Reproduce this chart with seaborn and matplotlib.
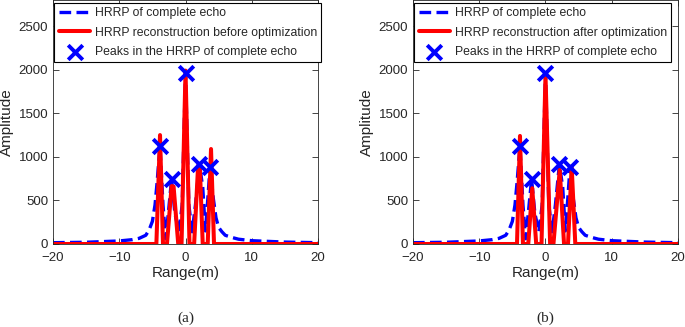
import numpy as np
import pandas as pd
import matplotlib
matplotlib.use('Agg')
import matplotlib.pyplot as plt
import seaborn as sns

# HRRP of complete echo (same in both panels)
echo_x = [-20, -15, -10, -8, -7, -6, -5.5, -5, -4.6, -4.3, -3.85, -3.4, -3.0, -2.6, -2.1, -1.6,
          -1.0, -0.5, 0, 0.5, 1.0, 1.5, 2.1, 2.6, 3.0, 3.3, 3.7, 4.2, 4.6, 5.0, 5.5, 6, 7, 8,
          10, 15, 20]
echo_y = [15, 20, 35, 50, 65, 100, 160, 260, 450, 700, 1120, 450, 60, 350, 745, 350,
          140, 450, 1960, 450, 140, 450, 915, 650, 150, 450, 880, 520, 300, 190, 140, 100, 75, 55,
          38, 22, 15]

# peaks of the complete echo
peak_x = [-3.85, -2.1, 0.0, 2.1, 3.7]
peak_y = [1120, 745, 1960, 915, 880]

# (a) reconstruction before optimization
before_x = [-20, -4.4, -3.85, -3.4, -2.8, -2.1, -1.8, -1.1, -0.6, 0, 0.6, 1.3, 1.9, 2.15,
            2.6, 3.35, 3.85, 4.3, 20]
before_y = [0, 0, 1250, 0, 0, 665, 660, 0, 0, 1990, 0, 0, 900, 900,
            0, 0, 1090, 0, 0]

# (b) reconstruction after optimization
after_x = [-20, -4.3, -3.85, -3.4, -2.6, -2.0, -1.4, -0.6, 0, 0.7, 1.2, 2.15, 2.8, 3.4,
           3.95, 4.5, 20]
after_y = [0, 0, 1240, 0, 0, 640, 0, 0, 1940, 0, 0, 850, 0, 0,
           890, 0, 0]

sns.set_style('ticks')
plt.rcParams['font.family'] = ['Liberation Sans', 'DejaVu Sans']

fig = plt.figure(figsize=(6.85, 3.27), dpi=100)

panels = [
    (0.0774, before_x, before_y, 'HRRP reconstruction before optimization', '(a)'),
    (0.6029, after_x, after_y, 'HRRP reconstruction after optimization', '(b)'),
]

for left, rx, ry, rlabel, tag in panels:
    ax = fig.add_axes([left, 83 / 327, 265 / 685, 244 / 327])
    sns.lineplot(x=echo_x, y=echo_y, ax=ax, color=(0, 0, 1), lw=2.4,
                 sort=False, estimator=None, label='HRRP of complete echo')
    ax.lines[-1].set_dashes([3.5, 1.6])
    sns.lineplot(x=rx, y=ry, ax=ax, color=(1, 0, 0), lw=2.9,
                 sort=False, estimator=None, label=rlabel)
    sns.scatterplot(x=peak_x, y=peak_y, ax=ax, marker='x', s=110, color=(0, 0, 1),
                    linewidth=2.8, label='Peaks in the HRRP of complete echo', zorder=5)

    ax.set_xlim(-20, 20)
    ax.set_ylim(0, 2800)
    ax.set_xticks([-20, -10, 0, 10, 20])
    ax.set_yticks([0, 500, 1000, 1500, 2000, 2500])
    ax.tick_params(direction='in', top=True, right=True, labelsize=9.5,
                   colors='#262626', length=4, width=0.6)
    ax.tick_params(axis='x', pad=6)
    for s in ax.spines.values():
        s.set_visible(True)
        s.set_color('#262626')
        s.set_linewidth(0.6)
    ax.set_xlabel('Range(m)', fontsize=11, labelpad=1)
    ax.set_ylabel('Amplitude', fontsize=11, labelpad=3)

    leg = ax.legend(loc='upper left', bbox_to_anchor=(0.005, 0.988), fontsize=8.8,
                    frameon=True, fancybox=False, framealpha=1, edgecolor='black',
                    handlelength=2.6, borderaxespad=0, borderpad=0.35,
                    labelspacing=0.6, handletextpad=0.35)
    leg.get_frame().set_linewidth(0.8)

    fig.text(left + 265 / 685 / 2, 1 - 318 / 327, tag, ha='center', va='center',
             fontsize=11, family='Liberation Serif')

fig.savefig('out.png', dpi=100)
